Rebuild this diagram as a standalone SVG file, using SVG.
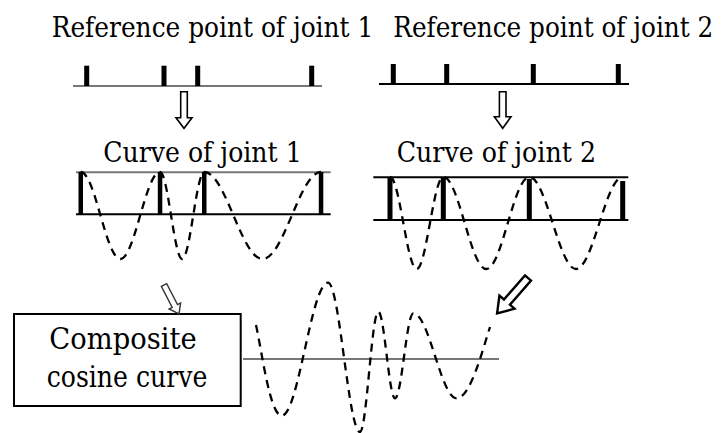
<svg xmlns="http://www.w3.org/2000/svg" width="724" height="433" viewBox="0 0 724 433">
<style>
.t{font-size:28px}
.c{font-size:30px}
.gl{stroke:#777;stroke-width:2;fill:none}
.bl{stroke:#000;stroke-width:2;fill:none}
.tick{fill:#000}
.dash{stroke:#000;stroke-width:2.3;fill:none;stroke-dasharray:8 6}
.arr{fill:#fff;stroke:#000;stroke-width:1.6;stroke-linejoin:miter}
</style>
<rect width="724" height="433" fill="#fff"/>

<g id="ref1">
<text class="t" x="51.7" y="36.7" font-family="'DejaVu Serif'" textLength="321.6" lengthAdjust="spacingAndGlyphs">Reference point of joint 1</text>
<line class="gl" x1="73" y1="86" x2="322" y2="86"/>
<rect class="tick" x="84.2" y="65.7" width="5" height="20.3"/>
<rect class="tick" x="161.5" y="65.7" width="5" height="20.3"/>
<rect class="tick" x="195.2" y="65.7" width="5" height="20.3"/>
<rect class="tick" x="309.2" y="65.7" width="5" height="20.3"/>
</g>

<g id="ref2">
<text class="t" x="393.3" y="36.7" font-family="'DejaVu Serif'" textLength="320" lengthAdjust="spacingAndGlyphs">Reference point of joint 2</text>
<line class="bl" x1="379" y1="84" x2="629" y2="84"/>
<rect class="tick" x="390.8" y="64" width="5" height="20"/>
<rect class="tick" x="444.2" y="64" width="5" height="20"/>
<rect class="tick" x="530.8" y="64" width="5" height="20"/>
<rect class="tick" x="615.8" y="64" width="5" height="20"/>
</g>

<g id="curve1">
<text class="t" x="103.3" y="162.3" font-family="'DejaVu Serif'" textLength="198.4" lengthAdjust="spacingAndGlyphs">Curve of joint 1</text>
<line class="gl" x1="76" y1="172.3" x2="330.7" y2="172.3"/>
<line class="bl" x1="76" y1="214.3" x2="330.7" y2="214.3"/>
<rect class="tick" x="78.5" y="172" width="4.5" height="42.3"/>
<rect class="tick" x="157.8" y="172" width="4.5" height="42.3"/>
<rect class="tick" x="202" y="172" width="4.5" height="42.3"/>
<rect class="tick" x="318.8" y="172" width="4.5" height="42.3"/>
<path class="dash" d="M80.7,172 C95.1,172 105.94,259 120.35,259 C134.76,259 145.59,172 160,172 C168.05,172 174.1,259 182.15,259 C190.2,259 196.25,172 204.3,172 C225.5,172 241.45,259 262.65,259 C283.85,259 299.8,172 321,172"/>
</g>

<g id="curve2">
<text class="t" x="396.7" y="161.7" font-family="'DejaVu Serif'" textLength="199.3" lengthAdjust="spacingAndGlyphs">Curve of joint 2</text>
<line class="bl" x1="373.3" y1="177.3" x2="628.3" y2="177.3"/>
<line class="bl" x1="373.3" y1="220" x2="628.3" y2="220"/>
<rect class="tick" x="387.5" y="177" width="5" height="43"/>
<rect class="tick" x="440.8" y="177" width="5" height="43"/>
<rect class="tick" x="526.8" y="179" width="5" height="41"/>
<rect class="tick" x="620.2" y="181" width="5" height="39"/>
<path class="dash" d="M390,177 C399.69,177 406.97,269 416.65,269 C426.34,269 433.62,177 443.3,177 C458.93,177 470.37,269 486.3,269 C501.93,269 513.67,177 529.3,177 C546.27,177 559.03,269 576,269 C592.97,269 605.73,177 622.7,177"/>
</g>

<g id="composite">
<rect x="14" y="314" width="226.7" height="92" fill="#fff" stroke="#000" stroke-width="2"/>
<text class="c" x="49.3" y="349.3" font-family="'DejaVu Serif'" textLength="147.4" lengthAdjust="spacingAndGlyphs">Composite</text>
<text class="c" x="46.7" y="387.3" font-family="'DejaVu Serif'" textLength="160.6" lengthAdjust="spacingAndGlyphs">cosine curve</text>
</g>

<g id="compositeCurve">
<line class="gl" x1="243" y1="359" x2="499" y2="359"/>
<path class="dash" d="M256,325 C262,352 270,415.7 281.7,415.7 C298.5,415.7 311.2,282.7 328,282.7 C339.6,282.7 348.4,432 360,432 C366.65,432 371.65,311.7 378.3,311.7 C384.4,311.7 388.9,398.3 395,398.3 C401.65,398.3 406.65,313.3 413.3,313.3 C429.1,313.3 440.9,398.3 456.7,398.3 C470,398.3 482,352 490,327"/>
</g>

<g id="connectors">
<polygon class="arr" transform="translate(184,91.7)" points="-3.3,0 3.3,0 3.3,26 8,26 0,36.6 -8,26 -3.3,26"/>
<polygon class="arr" transform="translate(502.7,91.7)" points="-3.3,0 3.3,0 3.3,25 8.3,25 0,36.6 -8.3,25 -3.3,25"/>
<polygon class="arr" style="stroke:#333;stroke-width:1.4" transform="translate(164,285) rotate(-27.4)" points="-3,0 3,0 3,23.6 6.5,23.6 0,32.6 -6.5,23.6 -3,23.6"/>
<polygon class="arr" style="stroke-width:2.4" transform="translate(528,278) rotate(41.1)" points="-4,0 4,0 4,32 10,32 0,47 -10,32 -4,32"/>
</g>
</svg>
